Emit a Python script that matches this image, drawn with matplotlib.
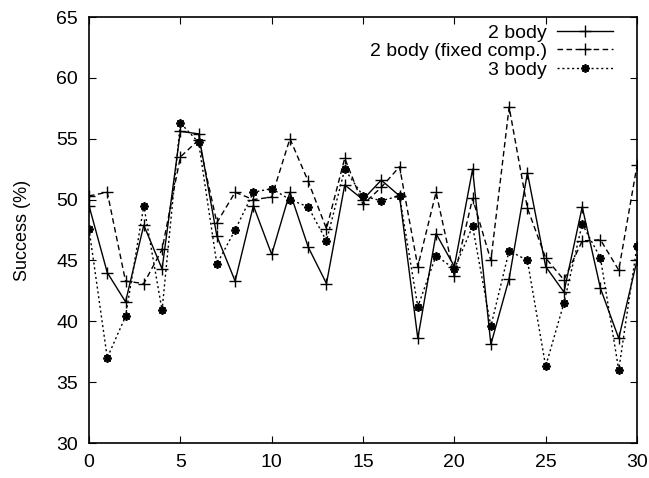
import numpy as np
import matplotlib.pyplot as plt

plt.rcParams['font.family'] = ['Liberation Sans', 'DejaVu Sans']

# 数据
x = list(range(31))
two_body = [49.5, 44.0, 41.6, 47.9, 44.3, 55.6, 55.4, 47.0, 43.3, 49.5,
            45.5, 50.6, 46.1, 43.1, 51.2, 50.0, 51.6, 50.3, 38.6, 47.2,
            44.5, 52.5, 38.1, 43.5, 52.2, 44.5, 42.4, 49.4, 42.7, 38.6,
            45.0]
two_body_fixed = [50.3, 50.6, 43.3, 43.1, 45.9, 53.5, 54.9, 48.1, 50.6, 50.0,
                  50.2, 55.0, 51.5, 47.6, 53.4, 49.6, 51.0, 52.7, 44.5, 50.6,
                  43.7, 50.1, 45.0, 57.6, 49.3, 45.2, 43.4, 46.6, 46.7, 44.2,
                  52.8]
three_body = [47.6, 37.0, 40.4, 49.5, 40.9, 56.3, 54.7, 44.7, 47.5, 50.6,
              50.9, 50.0, 49.4, 46.6, 52.5, 50.3, 49.9, 50.3, 41.2, 45.4,
              44.3, 47.8, 39.6, 45.8, 45.0, 36.3, 41.5, 48.0, 45.2, 36.0,
              46.2]
labels = ['2 body', '2 body (fixed comp.)', '3 body']

fig = plt.figure(figsize=(6.49, 4.78), dpi=100)
ax = fig.add_axes([89/649, 1-443/478, (637-89)/649, (443-17)/478])

ax.plot(x, two_body, '-', color='black', lw=1.0, marker='+', ms=8, mew=1.0,
        label=labels[0])
ax.plot(x, two_body_fixed, color='black', lw=1.0, ls=(0, (4, 2.5)), marker='+',
        ms=8, mew=1.0, label=labels[1])
ax.plot(x, three_body, color='black', lw=1.0, ls=(0, (1.5, 2)),
        marker=(8, 2, 0), ms=6, mew=1.3, label=labels[2])

ax.set_xlim(0, 30)
ax.set_ylim(30, 65)
ax.set_xticks(range(0, 31, 5))
ax.set_yticks(range(30, 66, 5))
ax.tick_params(direction='in', top=True, right=True, length=5, width=0.8,
               labelsize=14, pad=8)
for s in ax.spines.values():
    s.set_linewidth(1.2)
ax.set_ylabel('Success (%)', fontsize=13, labelpad=18)

leg = ax.legend(loc='upper right', bbox_to_anchor=((613-89)/548, 1-7/426),
                frameon=False, markerfirst=False, fontsize=14,
                handlelength=2.9, handletextpad=0.5, labelspacing=0.05,
                borderpad=0, borderaxespad=0)
# 文字右对齐（gnuplot 风格）
col = leg._legend_box._children[-1]._children[0]
col.align = 'right'

fig.savefig('out.png', dpi=100)
